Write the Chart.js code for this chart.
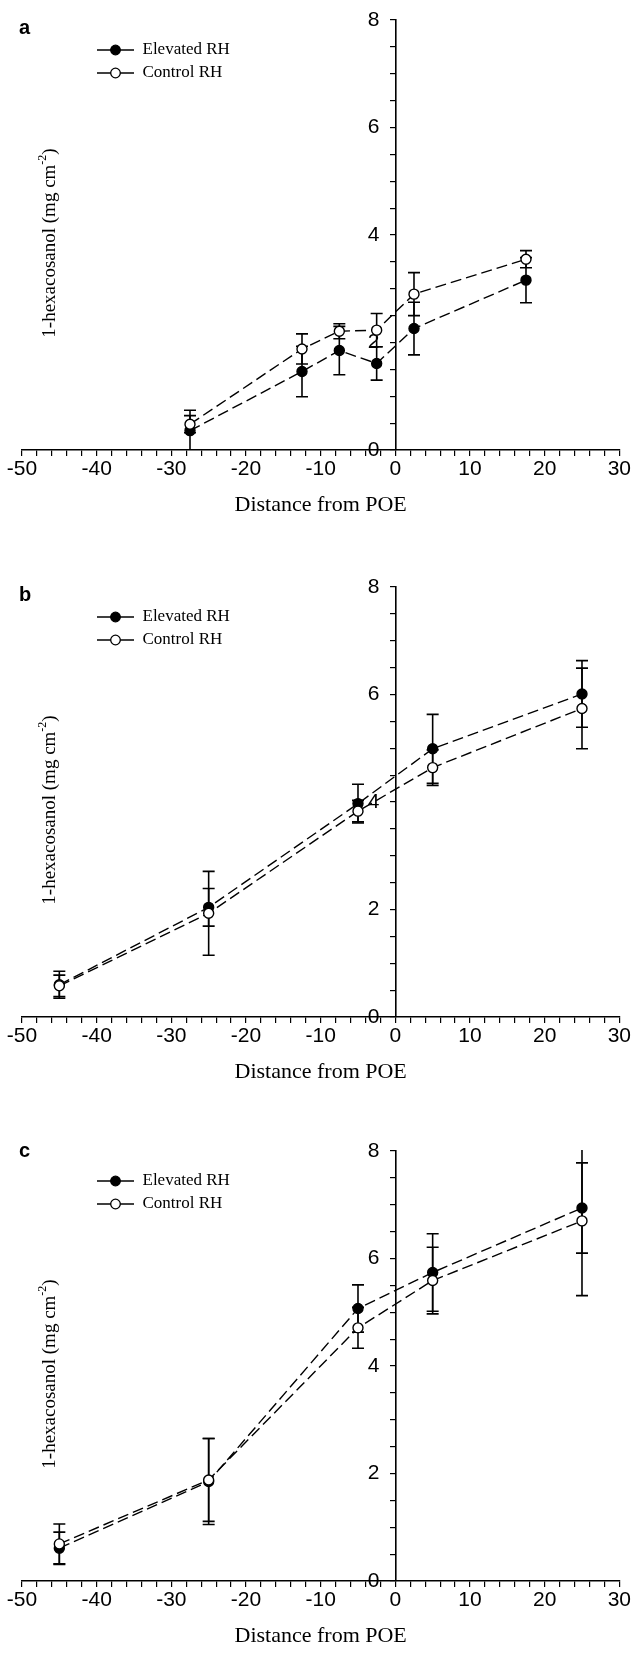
<!DOCTYPE html>
<html>
<head>
<meta charset="utf-8">
<script src="https://cdn.jsdelivr.net/npm/chart.js@4/dist/chart.umd.min.js"></script>
<style>
  html, body { margin: 0; padding: 0; background: #fff; }
  body { width: 632px; height: 1657px; position: relative; overflow: hidden; }
  .panel { position: absolute; left: 0; width: 632px; height: 530px; }
</style>
</head>
<body>
<div class="panel" style="top:0px"><canvas id="g_a" width="632" height="530"></canvas></div>
<div class="panel" style="top:567px"><canvas id="g_b" width="632" height="530"></canvas></div>
<div class="panel" style="top:1131px"><canvas id="g_c" width="632" height="530"></canvas></div>
<script>
// panel a
const distA = [-27.5, -12.5, -7.5, -2.5, 2.5, 17.5];
const elevatedA = [0.36, 1.46, 1.85, 1.61, 2.26, 3.16];
const elevatedErrA = [0.38, 0.47, 0.45, 0.31, 0.49, 0.42];
const controlA = [0.48, 1.88, 2.21, 2.23, 2.90, 3.55];
const controlErrA = [0.16, 0.28, 0.14, 0.31, 0.40, 0.16];

// panel b
const distB = [-45, -25, -5, 5, 25];
const elevatedB = [0.60, 2.04, 3.97, 4.99, 6.01];
const elevatedErrB = [0.25, 0.35, 0.36, 0.64, 0.62];
const controlB = [0.58, 1.93, 3.83, 4.64, 5.74];
const controlErrB = [0.20, 0.78, 0.20, 0.33, 0.75];

// panel c
const distC = [-45, -25, -5, 5, 25];
const elevatedC = [0.61, 1.85, 5.07, 5.74, 6.94];
const elevatedErrC = [0.30, 0.80, 0.44, 0.72, 0.84];
const controlC = [0.69, 1.88, 4.71, 5.59, 6.70];
const controlErrC = [0.37, 0.77, 0.38, 0.62, 1.39];

const seriesLabels = ['Elevated RH', 'Control RH'];
const xTitle = 'Distance from POE';
const yTitleMain = '1-hexacosanol (mg cm';
const yTitleSup = '-2';

const sansFont = '"Liberation Sans", Arial, sans-serif';
const serifFont = '"Liberation Serif", "Times New Roman", serif';
const capHalf = 6;

Chart.defaults.color = '#000';

function legendIcon(fill) {
    const c = document.createElement('canvas');
    c.width = 37;
    c.height = 12;
    const g = c.getContext('2d');
    g.strokeStyle = '#000';
    g.lineWidth = 1.5;
    g.beginPath();
    g.moveTo(0, 6);
    g.lineTo(37, 6);
    g.stroke();
    g.beginPath();
    g.arc(18.5, 6, 4.8, 0, Math.PI * 2);
    g.fillStyle = fill;
    g.fill();
    g.lineWidth = 1.3;
    g.stroke();
    return c;
}
const iconElevated = legendIcon('#000');
const iconControl = legendIcon('#fff');

const errorBarPlugin = {
    id: 'errorBars',
    beforeDatasetsDraw: (chart) => {
        const ctx = chart.ctx;
        const area = chart.chartArea;
        const xScale = chart.scales.x;
        const yScale = chart.scales.y;
        ctx.save();
        ctx.beginPath();
        ctx.rect(area.left, area.top - 1, area.right - area.left, area.bottom - area.top + 1);
        ctx.clip();
        ctx.strokeStyle = '#000';
        ctx.lineWidth = 1.6;
        chart.data.datasets.forEach(ds => {
            if (!ds.errors)
                return;
            ds.data.forEach((p, i) => {
                const err = ds.errors[i];
                const x = xScale.getPixelForValue(p.x);
                const yTop = yScale.getPixelForValue(p.y + err);
                const yBot = yScale.getPixelForValue(p.y - err);
                ctx.beginPath();
                ctx.moveTo(x, yTop);
                ctx.lineTo(x, yBot);
                ctx.moveTo(x - capHalf, yTop);
                ctx.lineTo(x + capHalf, yTop);
                ctx.moveTo(x - capHalf, yBot);
                ctx.lineTo(x + capHalf, yBot);
                ctx.stroke();
            });
        });
        ctx.restore();
    }
};

// puts the legend box where the figure has it
const legendPlacePlugin = {
    id: 'legendPlace',
    afterLayout: (chart, args, opts) => {
        const legend = chart.legend;
        if (!legend || opts.x === undefined)
            return;
        legend.left = opts.x;
        legend.top = opts.y;
        legend.right = opts.x + legend.width;
        legend.bottom = opts.y + legend.height;
    }
};

// panel letter and the rotated y title
const panelTextPlugin = {
    id: 'panelText',
    afterDraw: (chart, args, opts) => {
        if (!opts.letter)
            return;
        const ctx = chart.ctx;
        ctx.save();
        ctx.fillStyle = '#000';
        ctx.textBaseline = 'middle';
        ctx.textAlign = 'left';
        ctx.font = 'bold 20px ' + sansFont;
        ctx.fillText(opts.letter, 19, opts.letterY);

        ctx.translate(50, 243);
        ctx.rotate(-Math.PI / 2);
        const mainFont = '19px ' + serifFont;
        const supFont = '12px ' + serifFont;
        ctx.font = mainFont;
        const wMain = ctx.measureText(yTitleMain).width;
        const wClose = ctx.measureText(')').width;
        ctx.font = supFont;
        const wSup = ctx.measureText(yTitleSup).width;
        let x = -(wMain + wSup + wClose) / 2;
        ctx.font = mainFont;
        ctx.fillText(yTitleMain, x, 0);
        x += wMain;
        ctx.font = supFont;
        ctx.fillText(yTitleSup, x, -7);
        x += wSup;
        ctx.font = mainFont;
        ctx.fillText(')', x, 0);
        ctx.restore();
    }
};

Chart.register(errorBarPlugin, legendPlacePlugin, panelTextPlugin);

function toPoints(xs, ys) {
    return xs.map((x, i) => ({x: x, y: ys[i]}));
}

function createChart(elementId, letter, letterY, xs, elevated, elevatedErr, control, controlErr) {
    const canvas = document.getElementById(elementId);
    const lineStyle = {
        borderColor: '#000',
        borderWidth: 1.4,
        borderDash: [11, 5],
        pointRadius: 5,
        pointBorderWidth: 1.4,
        pointBorderColor: '#000',
        showLine: true,
        tension: 0,
    };
    const data = {
        datasets: [
            Object.assign({
                label: seriesLabels[0],
                data: toPoints(xs, elevated),
                errors: elevatedErr,
                pointBackgroundColor: '#000',
                legendIcon: iconElevated,
                order: 1,
            }, lineStyle),
            Object.assign({
                label: seriesLabels[1],
                data: toPoints(xs, control),
                errors: controlErr,
                pointBackgroundColor: '#fff',
                legendIcon: iconControl,
                order: 0,
            }, lineStyle),
        ]
    };

    const config = {
        type: 'line',
        data: data,
        options: {
            responsive: false,
            animation: false,
            devicePixelRatio: 1,
            layout: {padding: {left: 22, right: 11, top: 20, bottom: 0}},
            scales: {
                x: {
                    type: 'linear',
                    position: 'bottom',
                    min: -50,
                    max: 30,
                    afterFit: (scale) => { scale.height = 80; },
                    ticks: {
                        stepSize: 2,
                        autoSkip: false,
                        maxRotation: 0,
                        padding: 1,
                        font: {family: sansFont, size: 21},
                        color: '#000',
                        callback: (v) => (Math.abs(v % 10) < 1e-6 ? String(v) : ''),
                    },
                    grid: {drawOnChartArea: false, color: '#000', tickLength: 6, lineWidth: 1.2},
                    border: {color: '#000', width: 1.6},
                    title: {
                        display: true,
                        text: xTitle,
                        font: {family: serifFont, size: 22},
                        color: '#000',
                        padding: {top: 0, bottom: 12},
                    },
                },
                y: {
                    type: 'linear',
                    position: {x: 0},
                    min: 0,
                    max: 8,
                    ticks: {
                        stepSize: 0.5,
                        autoSkip: false,
                        font: {family: sansFont, size: 21},
                        color: '#000',
                        // the axis sits mid-chart, so the label is pushed off it with a figure space
                        callback: (v) => (Math.abs(v % 2) < 1e-6 ? String(v) + '\u2007\u2009' : ''),
                    },
                    grid: {drawOnChartArea: false, color: '#000', tickLength: 5, lineWidth: 1.2},
                    border: {color: '#000', width: 1.6},
                },
            },
            plugins: {
                tooltip: {enabled: false},
                legend: {
                    position: 'chartArea',
                    align: 'start',
                    labels: {
                        usePointStyle: true,
                        pointStyleWidth: 37,
                        boxHeight: 17,
                        padding: 6,
                        color: '#000',
                        font: {family: serifFont, size: 17},
                        generateLabels: (chart) => chart.data.datasets.map((ds, i) => ({
                            text: ds.label,
                            pointStyle: ds.legendIcon,
                            datasetIndex: i,
                            hidden: false,
                            lineWidth: 0,
                            fillStyle: '#000',
                            strokeStyle: '#000',
                            fontColor: '#000',
                        })),
                    },
                },
                legendPlace: {x: 91, y: 35.5},
                panelText: {letter: letter, letterY: letterY},
            },
        },
    };

    return new Chart(canvas, config);
}

createChart('g_a', 'a', 28, distA, elevatedA, elevatedErrA, controlA, controlErrA);
createChart('g_b', 'b', 28, distB, elevatedB, elevatedErrB, controlB, controlErrB);
createChart('g_c', 'c', 20, distC, elevatedC, elevatedErrC, controlC, controlErrC);
</script>
</body>
</html>
